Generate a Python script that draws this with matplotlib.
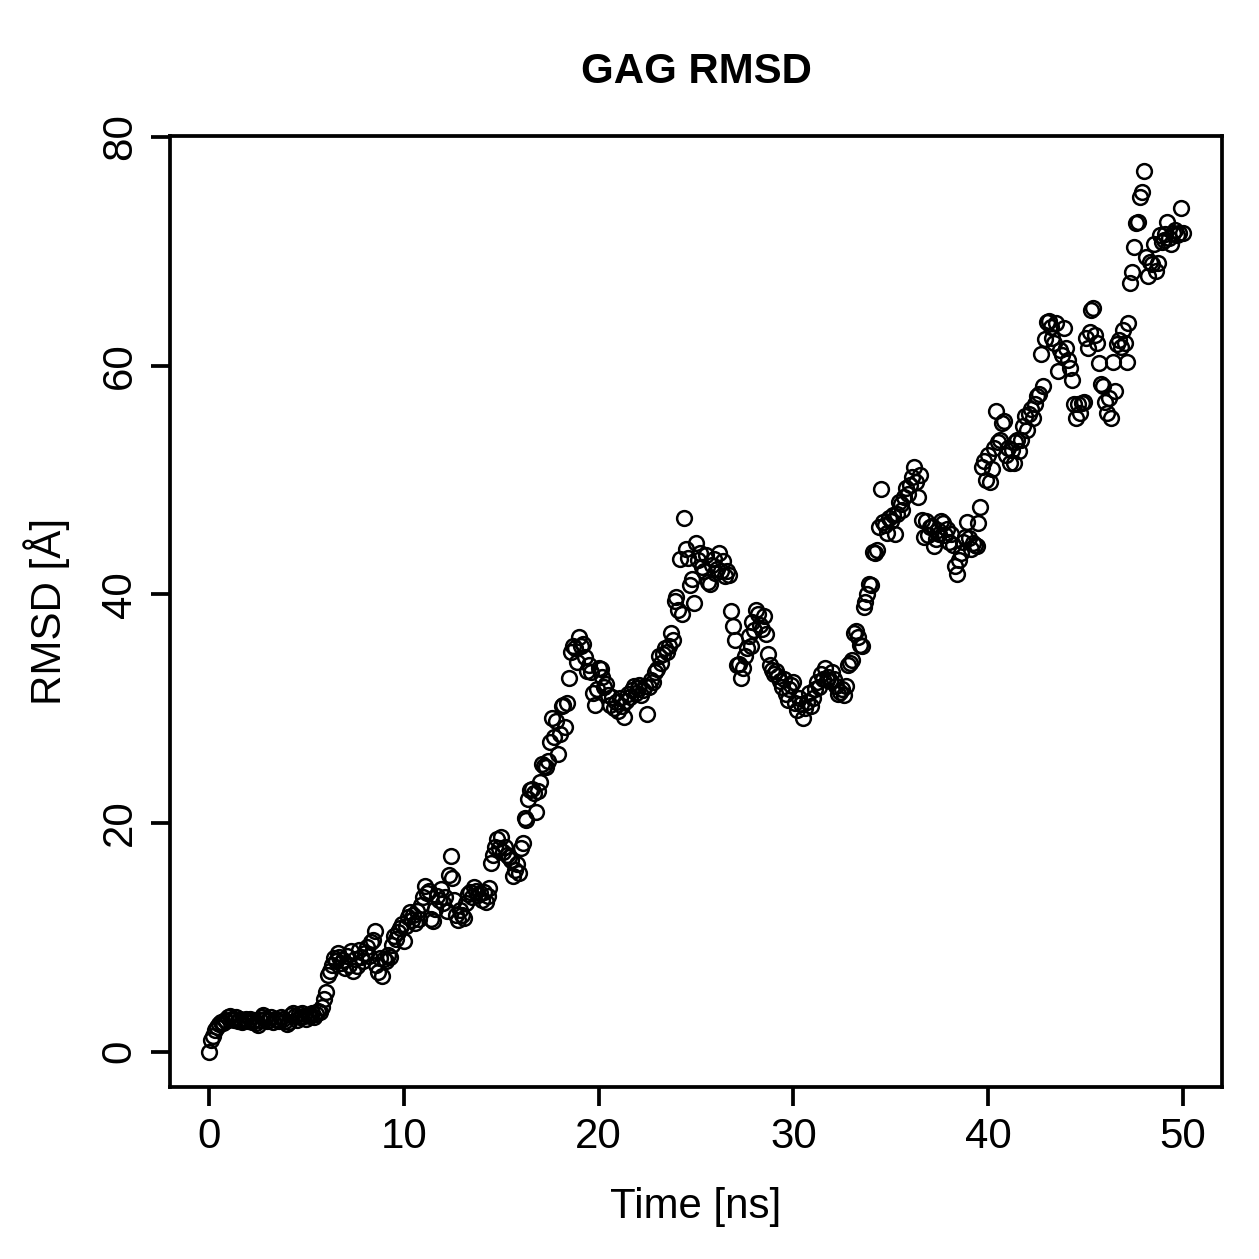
import numpy as np
import matplotlib
matplotlib.use("Agg")
import matplotlib.pyplot as plt

# RMSD values every 0.1 ns
rmsd = [
    0.0, 1.0, 1.4, 1.9, 2.2, 2.4, 2.6, 2.5, 2.8, 2.7,
    3.0, 3.1, 2.9, 2.8, 3.0, 2.7, 2.9, 2.6, 2.8, 2.9,
    2.7, 2.9, 2.6, 2.8, 2.5, 2.3, 2.8, 3.0, 3.2, 2.9,
    2.7, 2.8, 3.0, 2.6, 2.9, 2.8, 2.7, 3.0, 2.9, 2.7,
    2.4, 2.6, 3.2, 3.4, 3.1, 2.8, 3.3, 3.0, 3.4, 3.1,
    2.9, 3.2, 3.1, 3.4, 3.0, 3.3, 3.6, 3.5, 3.9, 4.6,
    5.2, 6.7, 7.1, 7.6, 8.2, 7.9, 8.6, 8.3, 7.8, 8.0,
    7.3, 8.4, 7.6, 8.8, 7.1, 8.1, 7.5, 8.9, 8.3, 7.9,
    8.6, 9.2, 8.4, 9.6, 9.8, 10.6, 7.6, 7.0, 8.2, 6.6,
    8.1, 7.9, 8.5, 8.3, 9.3, 10.1, 9.9, 10.5, 10.8, 11.2,
    9.7, 11.0, 11.8, 12.2, 11.5, 12.0, 11.3, 12.3, 11.6, 12.8,
    13.5, 14.5, 13.9, 14.1, 11.6, 11.4, 12.5, 13.6, 13.3, 14.2,
    13.0, 13.5, 12.3, 15.5, 17.1, 15.2, 13.3, 12.0, 11.5, 12.4,
    12.0, 11.7, 13.0, 13.8, 14.0, 13.5, 14.4, 14.1, 13.7, 13.9,
    13.3, 14.0, 13.1, 13.6, 14.3, 16.5, 17.2, 17.9, 18.6, 17.8,
    18.8, 17.5, 17.9, 17.2, 17.0, 16.8, 15.4, 15.9, 16.4, 15.6,
    17.8, 18.3, 20.4, 20.3, 22.1, 22.9, 23.0, 22.6, 21.0, 22.8,
    23.6, 25.2, 25.0, 24.9, 25.4, 27.1, 29.2, 27.5, 28.9, 26.0,
    27.8, 30.2, 30.3, 28.4, 30.5, 32.7, 35.0, 35.5, 35.3, 34.1,
    36.3, 35.5, 35.7, 34.5, 33.3, 33.8, 33.2, 31.4, 30.3, 31.7,
    33.6, 33.5, 32.8, 31.9, 32.2, 31.2, 30.3, 31.0, 30.1, 30.6,
    29.8, 30.9, 30.2, 29.3, 30.7, 31.3, 31.0, 31.6, 32.0, 31.4,
    31.8, 32.1, 31.2, 31.6, 32.0, 29.5, 31.9, 32.5, 32.3, 33.2,
    33.5, 34.6, 34.0, 34.8, 35.3, 35.0, 35.5, 36.6, 36.0, 39.4,
    39.8, 38.6, 43.1, 38.3, 46.7, 44.0, 43.2, 40.8, 41.3, 39.2,
    44.5, 43.0, 43.6, 42.4, 42.0, 43.4, 41.1, 40.9, 42.6, 43.1,
    41.9, 42.2, 43.6, 42.0, 42.9, 41.6, 42.0, 41.7, 38.5, 37.2,
    36.0, 33.8, 33.9, 32.7, 33.6, 34.6, 35.3, 36.4, 35.5, 37.6,
    36.9, 38.6, 38.3, 37.3, 37.0, 38.1, 36.5, 34.8, 33.8, 33.4,
    33.0, 33.3, 32.9, 32.4, 31.9, 32.6, 31.3, 30.8, 31.7, 32.1,
    32.3, 30.5, 29.9, 30.9, 30.4, 29.2, 30.1, 30.6, 31.4, 30.2,
    30.9, 31.7, 32.3, 31.9, 33.0, 32.6, 33.6, 32.5, 32.8, 32.4,
    33.2, 32.6, 32.0, 31.3, 31.5, 31.7, 31.2, 32.0, 33.8, 34.0,
    34.3, 36.6, 36.8, 36.3, 35.6, 35.5, 38.9, 39.3, 40.0, 40.9,
    40.8, 43.7, 43.6, 43.9, 45.9, 49.2, 46.3, 46.1, 45.4, 46.7,
    46.4, 46.9, 45.3, 47.0, 48.1, 47.9, 47.4, 48.5, 49.3, 48.8,
    49.6, 50.3, 51.1, 49.8, 48.5, 50.4, 46.5, 45.0, 46.4, 45.2,
    45.9, 46.0, 44.2, 44.8, 45.6, 45.3, 46.4, 46.2, 45.2, 45.7,
    44.6, 45.3, 44.3, 42.5, 41.8, 43.0, 43.6, 44.6, 45.0, 46.3,
    44.9, 44.0, 44.5, 44.3, 44.2, 46.2, 47.6, 51.1, 51.7, 50.0,
    52.2, 49.8, 51.0, 52.8, 56.0, 53.3, 53.5, 55.0, 55.2, 52.2,
    52.8, 51.5, 52.6, 51.5, 53.3, 53.5, 52.5, 53.5, 54.7, 55.6,
    54.4, 55.8, 56.2, 55.4, 56.6, 57.3, 57.5, 61.0, 58.2, 62.3,
    63.8, 63.9, 63.4, 62.4, 62.0, 63.7, 59.5, 61.4, 60.9, 63.3,
    61.5, 60.5, 59.8, 58.7, 56.6, 55.4, 56.6, 55.9, 56.7, 56.8,
    62.4, 61.5, 62.9, 64.9, 65.0, 62.7, 62.0, 60.2, 58.4, 58.2,
    56.8, 55.9, 57.2, 55.4, 60.3, 57.8, 61.9, 62.2, 61.6, 63.1,
    62.0, 60.3, 63.7, 67.2, 68.2, 70.4, 72.5, 72.6, 74.7, 75.2,
    77.0, 69.5, 67.8, 69.1, 68.9, 70.6, 68.3, 69.0, 71.4, 70.8,
    71.0, 71.5, 72.6, 71.2, 70.6, 71.6, 71.9, 71.4, 71.6, 73.8,
    71.6,
]
time = np.arange(len(rmsd)) * 0.1

plt.rcParams['font.family'] = ['Liberation Sans', 'DejaVu Sans']

fig = plt.figure(figsize=(1259 / 180, 1259 / 180), dpi=180)
ax = fig.add_axes([0.135, 0.1366, 0.8356, 0.7554])

ax.plot(time, rmsd, linestyle='none', marker='o', markersize=5.9,
        markerfacecolor='none', markeredgecolor='black', markeredgewidth=1.0)

ax.set_xlim(-2, 52)
ax.set_ylim(-3.08, 80.08)
ax.set_xticks([0, 10, 20, 30, 40, 50])
ax.set_yticks([0, 20, 40, 60, 80])
ax.tick_params(direction='out', length=7.6, width=1.5, labelsize=16.8, pad=4.5)
for lab in ax.get_yticklabels():
    lab.set_rotation(90)
    lab.set_va('center')
for s in ax.spines.values():
    s.set_linewidth(1.5)

ax.set_xlabel('Time [ns]', fontsize=16.8, labelpad=12)
ax.set_ylabel('RMSD [Å]', fontsize=16.8, labelpad=12)
ax.set_title('GAG RMSD', fontsize=16.8, fontweight='bold', pad=21)

fig.savefig('out.png', dpi=180)
